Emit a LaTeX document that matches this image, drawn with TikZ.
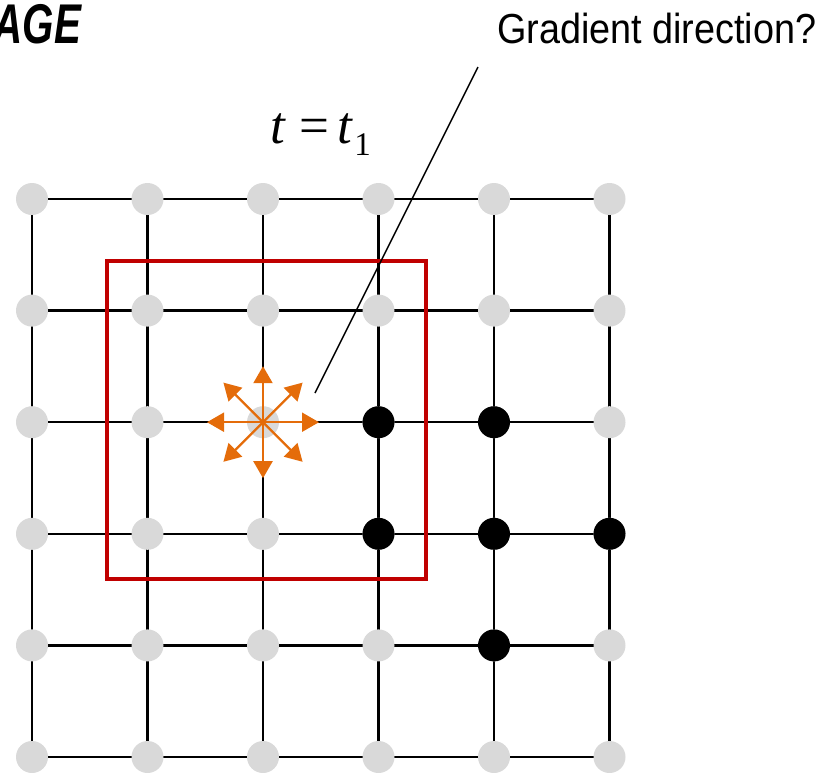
\documentclass[tikz,border=0pt]{standalone}
\usepackage{fontspec}
\setmainfont{Liberation Sans}
\newfontfamily\labelfont[FakeStretch=0.9]{Liberation Sans}
\newfontfamily\titlefont[FakeStretch=0.72]{Liberation Sans}
\newfontfamily\mathserif{Liberation Serif}
\usetikzlibrary{arrows.meta,backgrounds}
\definecolor{nodegray}{HTML}{D9D9D9}
\definecolor{boxred}{HTML}{C00000}
\definecolor{arrorange}{HTML}{E46C0A}
\tikzset{
  gridline/.style={line width=2.5pt, black},
  gpt/.style={circle, inner sep=0pt, minimum size=32pt, fill=nodegray},
  bpt/.style={gpt, fill=black},
  gradarrow/.style={arrorange, line width=2.2pt, -{Triangle[length=17pt,width=19pt]}},
  boxline/.style={boxred, line width=4.5pt},
  leader/.style={black, line width=1.5pt},
  txt/.style={inner sep=0pt, outer sep=0pt},
}
\begin{document}
\begin{tikzpicture}[x=1pt,y=-1pt]
\useasboundingbox (0,0) rectangle (825,772);
% grid nodes
\foreach \x [count=\i from 0] in {32,147.5,263,378.5,494,609.5}{
  \foreach \y [count=\j from 0] in {199,310.6,422.2,533.8,645.4,757}{
    \node[gpt] (n\i\j) at (\x,\y) {};
  }
}
% black nodes
\foreach \i/\j in {3/2,4/2,3/3,4/3,5/3,4/4}{
  \node[bpt] (b\i\j) at (n\i\j) {};
}
% grid lines
\begin{scope}[on background layer]
\foreach \i [evaluate=\i as \ni using int(\i+1)] in {0,...,4}{
  \foreach \j in {0,...,5}{
    \draw[gridline] (n\i\j.center) -- (n\ni\j.center);
    \draw[gridline] (n\j\i.center) -- (n\j\ni.center);
  }
}
\end{scope}
% red window
\draw[boxline] (107,261) rectangle (426,579);
% gradient arrows
\foreach \a in {0,45,...,315}{
  \draw[gradarrow] (n22.center) -- ++(\a:56);
}
% texts
\node[txt, anchor=base east] (title) at (81,43) {\titlefont\fontsize{56}{60}\selectfont\bfseries\itshape AGE};
\node[txt, anchor=base west] (grad) at (497,43) {\labelfont\fontsize{42}{48}\selectfont Gradient direction?};
\node[txt, anchor=base west] (time) at (270,143) {\mathserif\fontsize{53}{58}\selectfont\textit{t}\hspace{14pt}=\hspace{8pt}\textit{t}\hspace{1pt}\raisebox{-12pt}{\fontsize{33}{35}\selectfont 1}};
% leader line
\coordinate (gradstart) at ([shift={(-19,24)}]grad.base west);
\coordinate (gradend) at (315,393);
\draw[leader] (gradstart) -- (gradend);
\end{tikzpicture}
\end{document}
